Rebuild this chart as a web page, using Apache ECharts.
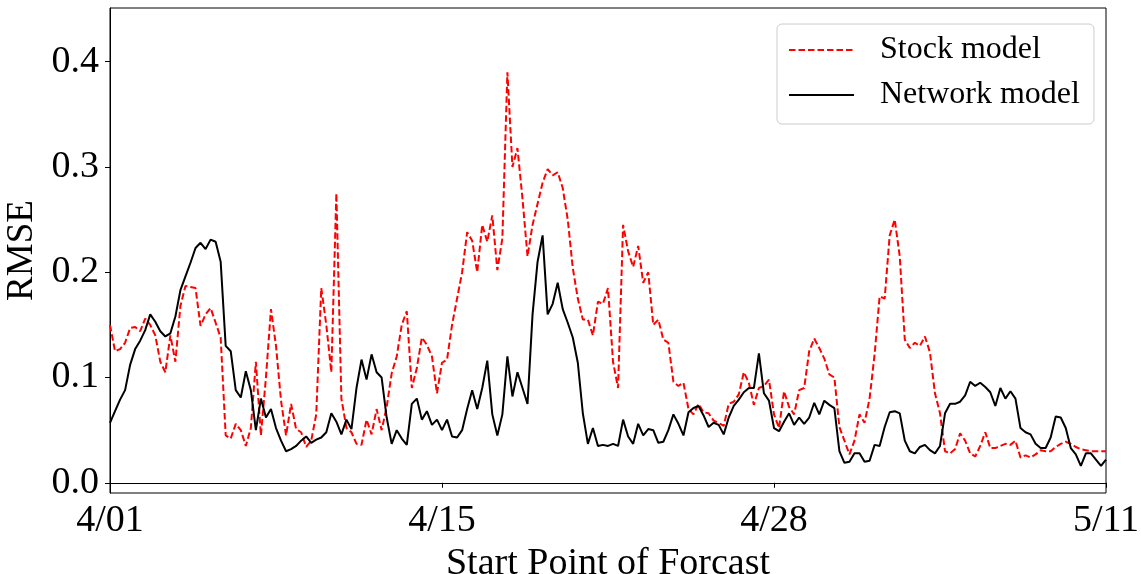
<!DOCTYPE html>
<html>
<head>
<meta charset="utf-8">
<script src="https://cdn.jsdelivr.net/npm/echarts@6.0.0/dist/echarts.min.js"></script>
<style>
  html, body { margin: 0; padding: 0; background: #fff; }
  #chart { width: 1141px; height: 574px; }
</style>
</head>
<body>
<div id="chart"></div>
<script>
// x ticks sit at evenly spaced sample indices (0, 66, 132, 198)
var xTickLabels = ['4/01', '4/15', '4/28', '5/11'];
var xTickIndex = [0, 66, 132, 198];
var yTicks = [0, 0.1, 0.2, 0.3, 0.4];

var stockRmse = [
  0.150, 0.125, 0.127, 0.133, 0.147, 0.148, 0.144, 0.156, 0.150, 0.140,
  0.115, 0.105, 0.140, 0.115, 0.168, 0.187, 0.186, 0.185, 0.149, 0.160,
  0.166, 0.152, 0.138, 0.045, 0.042, 0.056, 0.050, 0.035, 0.052, 0.115,
  0.045, 0.100, 0.165, 0.130, 0.078, 0.045, 0.075, 0.051, 0.048, 0.034,
  0.040, 0.065, 0.185, 0.150, 0.105, 0.275, 0.080, 0.052, 0.048, 0.037,
  0.036, 0.060, 0.046, 0.070, 0.050, 0.072, 0.104, 0.120, 0.150, 0.163,
  0.090, 0.109, 0.138, 0.131, 0.120, 0.085, 0.114, 0.117, 0.150, 0.175,
  0.200, 0.238, 0.230, 0.200, 0.245, 0.229, 0.254, 0.202, 0.232, 0.390,
  0.300, 0.318, 0.270, 0.215, 0.245, 0.265, 0.285, 0.298, 0.292, 0.295,
  0.280, 0.250, 0.204, 0.175, 0.155, 0.155, 0.140, 0.172, 0.170, 0.185,
  0.115, 0.090, 0.245, 0.220, 0.205, 0.225, 0.190, 0.200, 0.150, 0.155,
  0.136, 0.133, 0.096, 0.092, 0.095, 0.070, 0.065, 0.075, 0.067, 0.066,
  0.059, 0.057, 0.054, 0.075, 0.077, 0.084, 0.105, 0.095, 0.074, 0.090,
  0.092, 0.098, 0.065, 0.052, 0.087, 0.072, 0.065, 0.088, 0.090, 0.125,
  0.137, 0.128, 0.118, 0.103, 0.100, 0.053, 0.040, 0.027, 0.040, 0.065,
  0.057, 0.080, 0.122, 0.177, 0.175, 0.235, 0.250, 0.215, 0.136, 0.128,
  0.133, 0.130, 0.139, 0.124, 0.085, 0.066, 0.030, 0.028, 0.032, 0.047,
  0.040, 0.028, 0.025, 0.035, 0.048, 0.033, 0.033, 0.035, 0.037, 0.036,
  0.040, 0.024, 0.026, 0.024, 0.027, 0.031, 0.030, 0.030, 0.034, 0.037,
  0.039, 0.037, 0.034, 0.032, 0.031, 0.030, 0.030, 0.030, 0.030
];

var networkRmse = [
  0.057, 0.068, 0.079, 0.088, 0.112, 0.127, 0.135, 0.145, 0.160, 0.153,
  0.144, 0.139, 0.142, 0.158, 0.183, 0.196, 0.209, 0.223, 0.228, 0.222,
  0.231, 0.229, 0.210, 0.130, 0.125, 0.088, 0.081, 0.106, 0.088, 0.050,
  0.080, 0.062, 0.070, 0.052, 0.040, 0.030, 0.032, 0.035, 0.040, 0.044,
  0.038, 0.041, 0.043, 0.048, 0.066, 0.058, 0.046, 0.060, 0.051, 0.090,
  0.117, 0.098, 0.122, 0.105, 0.100, 0.062, 0.037, 0.050, 0.042, 0.036,
  0.075, 0.080, 0.060, 0.068, 0.055, 0.060, 0.050, 0.060, 0.044, 0.043,
  0.050, 0.070, 0.088, 0.070, 0.090, 0.116, 0.065, 0.045, 0.065, 0.120,
  0.082, 0.105, 0.090, 0.075, 0.160, 0.210, 0.235, 0.160, 0.170, 0.190,
  0.165, 0.152, 0.138, 0.114, 0.066, 0.037, 0.052, 0.035, 0.036, 0.035,
  0.037, 0.035, 0.060, 0.044, 0.037, 0.056, 0.045, 0.051, 0.050, 0.038,
  0.039, 0.050, 0.065, 0.056, 0.045, 0.067, 0.071, 0.073, 0.064, 0.053,
  0.057, 0.055, 0.046, 0.062, 0.073, 0.079, 0.086, 0.090, 0.090, 0.123,
  0.085, 0.078, 0.052, 0.049, 0.058, 0.066, 0.055, 0.062, 0.056, 0.062,
  0.076, 0.065, 0.078, 0.074, 0.071, 0.030, 0.019, 0.020, 0.028, 0.028,
  0.020, 0.021, 0.036, 0.035, 0.053, 0.067, 0.068, 0.066, 0.040, 0.030,
  0.028, 0.034, 0.036, 0.031, 0.028, 0.035, 0.066, 0.075, 0.075, 0.077,
  0.083, 0.096, 0.092, 0.095, 0.091, 0.086, 0.073, 0.090, 0.080, 0.087,
  0.080, 0.052, 0.048, 0.046, 0.037, 0.033, 0.033, 0.043, 0.063, 0.062,
  0.052, 0.033, 0.027, 0.016, 0.028, 0.028, 0.022, 0.016, 0.022
];

var serif = "'Liberation Serif', 'DejaVu Serif', serif";

function toPairs(arr) {
  return arr.map(function (v, i) { return [i, v]; });
}

var chart = echarts.init(document.getElementById('chart'), null, { renderer: 'canvas' });

var option = {
  animation: false,
  backgroundColor: '#fff',
  grid: {
    left: 110, right: 35, top: 8, bottom: 81,
    show: true, borderColor: '#000', borderWidth: 1,
    containLabel: false,
    outerBoundsMode: 'none'
  },
  legend: {
    left: 777, top: 24,
    orient: 'vertical',
    itemWidth: 65, itemHeight: 14, itemGap: 13,
    padding: [10, 14, 13, 11],
    backgroundColor: 'rgba(255,255,255,0.8)',
    borderColor: '#cccccc', borderWidth: 1, borderRadius: 5,
    itemStyle: { opacity: 0 },
    textStyle: {
      fontFamily: serif, fontSize: 32, lineHeight: 32, color: '#000',
      padding: [0, 0, 0, 21]
    },
    data: ['Stock model', 'Network model']
  },
  xAxis: {
    type: 'value',
    min: 0, max: stockRmse.length - 1,
    name: 'Start Point of Forcast',
    nameLocation: 'middle', nameGap: 39,
    nameTextStyle: { fontFamily: serif, fontSize: 38, color: '#000' },
    axisLine: { show: true, lineStyle: { color: '#000', width: 1 } },
    axisTick: { show: true, length: 5, lineStyle: { color: '#000' }, customValues: xTickIndex },
    axisLabel: {
      fontFamily: serif, fontSize: 38, color: '#000', margin: 9,
      customValues: xTickIndex,
      formatter: function (v) {
        var k = xTickIndex.indexOf(Math.round(v));
        return k >= 0 ? xTickLabels[k] : '';
      }
    },
    splitLine: { show: false }
  },
  yAxis: {
    type: 'value',
    min: -0.0097, max: 0.451,
    name: 'RMSE',
    nameLocation: 'middle', nameGap: 59,
    nameTextStyle: { fontFamily: serif, fontSize: 37, color: '#000' },
    axisLine: { show: true, lineStyle: { color: '#000', width: 1 } },
    axisTick: { show: true, length: 5, lineStyle: { color: '#000' }, customValues: yTicks },
    axisLabel: {
      fontFamily: serif, fontSize: 38, color: '#000', margin: 11,
      customValues: yTicks,
      formatter: function (v) { return v.toFixed(1); }
    },
    splitLine: { show: false }
  },
  series: [
    {
      name: 'Stock model',
      type: 'line',
      data: toPairs(stockRmse),
      symbol: 'none',
      lineStyle: { color: '#ff0000', width: 2, type: [6.5, 3] },
      itemStyle: { color: '#ff0000' },
      z: 2
    },
    {
      name: 'Network model',
      type: 'line',
      data: toPairs(networkRmse),
      symbol: 'none',
      lineStyle: { color: '#000000', width: 2 },
      itemStyle: { color: '#000000' },
      z: 3
    }
  ]
};

chart.setOption(option);
</script>
</body>
</html>
